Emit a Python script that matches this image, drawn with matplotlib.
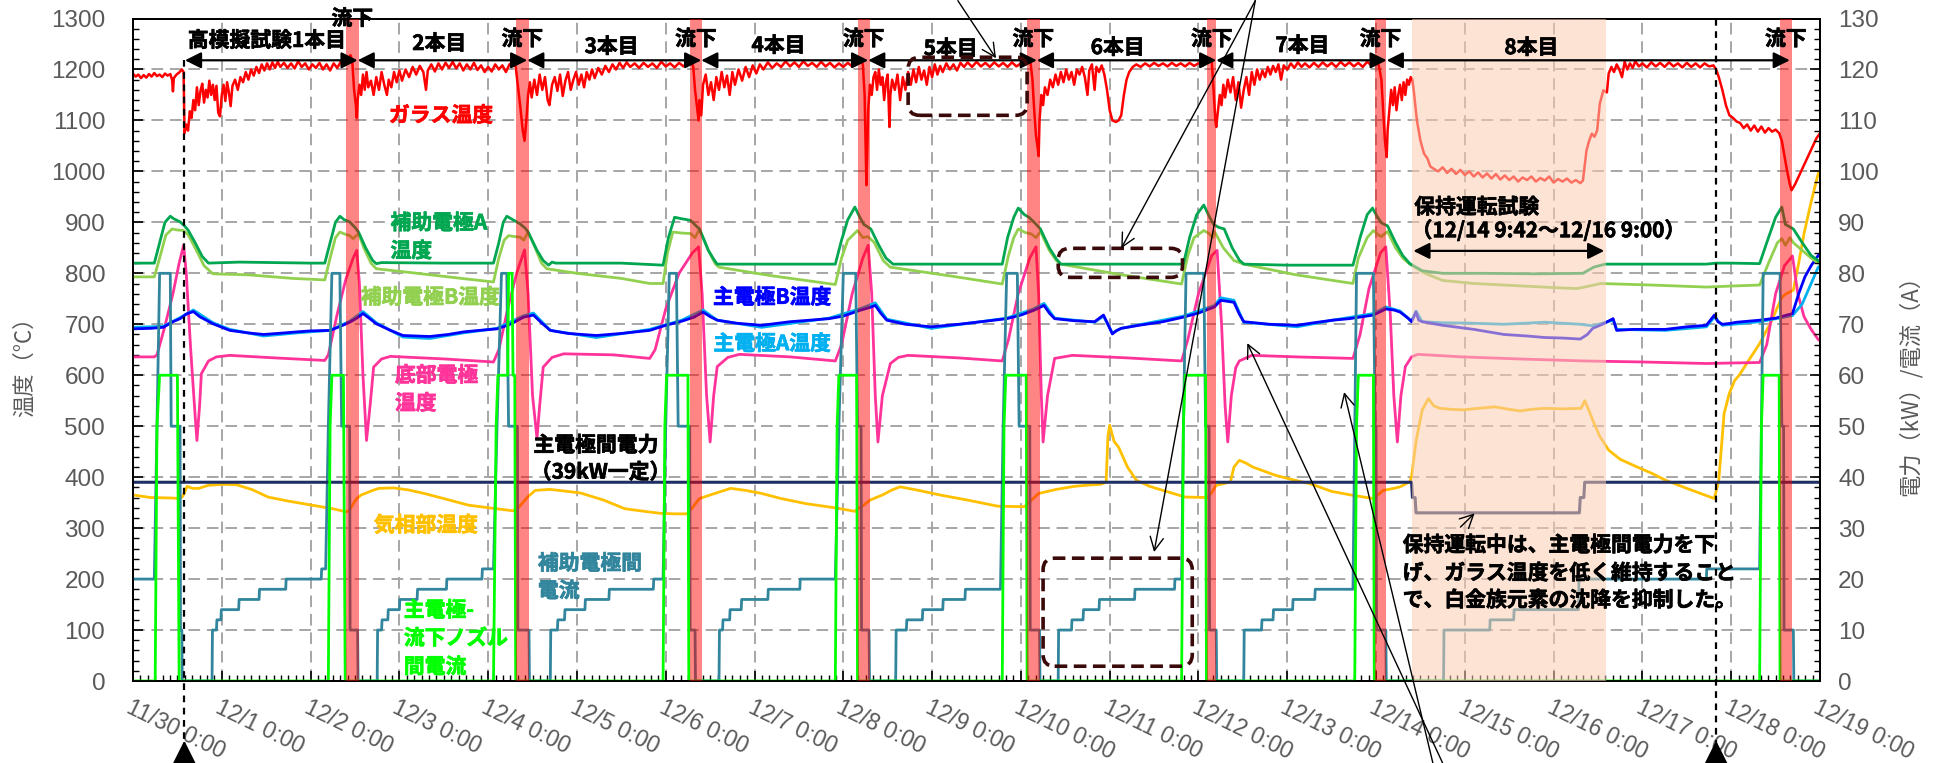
import matplotlib
matplotlib.use("Agg")
import matplotlib.pyplot as plt
import matplotlib.transforms as mtransforms
import matplotlib.patheffects as pe
from matplotlib.patches import FancyBboxPatch
from matplotlib.ticker import MultipleLocator, FixedLocator
from matplotlib.font_manager import FontProperties, findfont


def first_font(names):
    for name in names:
        try:
            findfont(FontProperties(family=name), fallback_to_default=False)
            return name
        except Exception:
            continue
    return "DejaVu Sans"


JP = ["Noto Sans CJK JP", "DejaVu Sans"]
NUM = first_font(["Liberation Sans Narrow", "Liberation Sans", "DejaVu Sans"])
plt.rcParams["font.family"] = JP

# ---------------------------------------------------------------- data
# time axis: days elapsed since 11/30 0:00
day_labels = ["11/30 0:00"] + [f"12/{d} 0:00" for d in range(1, 20)]

# pouring (流下) periods [start, end]
pour_start = [2.40, 4.31, 6.27, 8.16, 10.07, 12.10, 13.99, 18.55]
pour_end = [2.54, 4.46, 6.41, 8.30, 10.21, 12.20, 14.11, 18.68]
# holding operation test period
hold_span = [14.40, 16.59]
# run boundaries for the double arrows
run_edges = [0.585, 2.53, 4.44, 6.40, 8.28, 10.18, 12.20, 14.12, 18.66]
run_labels = ["高模擬試験1本目", "2本目", "3本目", "4本目", "5本目", "6本目", "7本目", "8本目"]
run_label_t = [1.51, 3.45, 5.39, 7.27, 9.21, 11.09, 13.17, 15.75]
run_label_v = [1257, 1251, 1245, 1247, 1241, 1243, 1247, 1243]
marker_days = [0.578, 17.83]

# glass temperature (°C)
glass = [
    (0.00, 1192), (0.03, 1186), (0.06, 1190), (0.09, 1183), (0.12, 1189), (0.15, 1184), (0.18, 1191),
    (0.21, 1186), (0.24, 1193), (0.27, 1187), (0.30, 1190), (0.33, 1185), (0.36, 1192), (0.39, 1188),
    (0.42, 1191), (0.44, 1180), (0.45, 1157), (0.46, 1183), (0.49, 1190), (0.52, 1194), (0.55, 1200),
    (0.57, 1195), (0.58, 1075), (0.60, 1092), (0.62, 1080), (0.64, 1118), (0.66, 1105), (0.68, 1140),
    (0.70, 1120), (0.72, 1165), (0.74, 1130), (0.76, 1158), (0.78, 1172), (0.80, 1135), (0.82, 1160),
    (0.84, 1145), (0.86, 1178), (0.88, 1150), (0.90, 1170), (0.92, 1140), (0.94, 1168), (0.96, 1115),
    (0.98, 1108), (1.00, 1150), (1.02, 1170), (1.04, 1138), (1.06, 1175), (1.08, 1155), (1.10, 1128),
    (1.12, 1168), (1.15, 1180), (1.18, 1160), (1.21, 1185), (1.24, 1175), (1.27, 1195), (1.30, 1180),
    (1.33, 1200), (1.36, 1188), (1.39, 1205), (1.42, 1193), (1.45, 1210), (1.48, 1198), (1.51, 1212),
    (1.54, 1200), (1.57, 1214), (1.60, 1203), (1.63, 1215), (1.66, 1205), (1.70, 1213), (1.74, 1203),
    (1.78, 1212), (1.82, 1202), (1.86, 1216), (1.90, 1205), (1.94, 1212), (1.98, 1200), (2.02, 1210),
    (2.06, 1203), (2.10, 1213), (2.14, 1200), (2.18, 1210), (2.22, 1198), (2.26, 1212), (2.30, 1203),
    (2.34, 1215), (2.38, 1208), (2.42, 1220), (2.45, 1228), (2.47, 1215), (2.49, 1160), (2.51, 1130),
    (2.52, 1105), (2.53, 1140), (2.55, 1170), (2.57, 1150), (2.59, 1190), (2.61, 1160), (2.63, 1195),
    (2.65, 1165), (2.68, 1178), (2.71, 1150), (2.74, 1185), (2.77, 1160), (2.80, 1195), (2.83, 1170),
    (2.86, 1150), (2.88, 1180), (2.91, 1165), (2.94, 1195), (2.97, 1175), (3.00, 1198), (3.03, 1178),
    (3.07, 1200), (3.11, 1185), (3.15, 1205), (3.19, 1190), (3.23, 1207), (3.27, 1195), (3.30, 1160),
    (3.32, 1198), (3.36, 1210), (3.40, 1196), (3.44, 1212), (3.48, 1200), (3.52, 1213), (3.56, 1203),
    (3.60, 1215), (3.64, 1202), (3.68, 1212), (3.72, 1198), (3.76, 1210), (3.80, 1200), (3.84, 1213),
    (3.88, 1199), (3.92, 1208), (3.96, 1195), (4.00, 1205), (4.04, 1196), (4.08, 1210), (4.12, 1200),
    (4.16, 1208), (4.20, 1195), (4.24, 1210), (4.28, 1215), (4.31, 1205), (4.33, 1175), (4.36, 1130),
    (4.39, 1080), (4.41, 1060), (4.43, 1100), (4.45, 1150), (4.47, 1175), (4.49, 1145), (4.52, 1180),
    (4.55, 1150), (4.58, 1190), (4.61, 1160), (4.64, 1185), (4.67, 1140), (4.69, 1130), (4.72, 1170),
    (4.75, 1185), (4.78, 1158), (4.81, 1190), (4.84, 1148), (4.87, 1178), (4.90, 1195), (4.93, 1160),
    (4.96, 1180), (4.99, 1195), (5.02, 1170), (5.05, 1190), (5.08, 1165), (5.11, 1195), (5.14, 1180),
    (5.17, 1200), (5.20, 1183), (5.24, 1203), (5.28, 1190), (5.32, 1207), (5.36, 1195), (5.40, 1210),
    (5.44, 1200), (5.48, 1213), (5.52, 1203), (5.56, 1214), (5.60, 1205), (5.65, 1212), (5.70, 1203),
    (5.75, 1213), (5.80, 1205), (5.85, 1212), (5.90, 1203), (5.95, 1215), (6.00, 1206), (6.05, 1212),
    (6.10, 1204), (6.15, 1213), (6.20, 1206), (6.25, 1215), (6.28, 1220), (6.31, 1205), (6.33, 1160),
    (6.35, 1130), (6.37, 1100), (6.38, 1140), (6.40, 1110), (6.42, 1170), (6.45, 1190), (6.48, 1150),
    (6.51, 1175), (6.54, 1140), (6.57, 1185), (6.60, 1160), (6.63, 1195), (6.66, 1165), (6.69, 1188),
    (6.72, 1150), (6.75, 1195), (6.78, 1170), (6.82, 1200), (6.86, 1178), (6.90, 1205), (6.94, 1185),
    (6.98, 1208), (7.02, 1192), (7.06, 1210), (7.10, 1200), (7.15, 1214), (7.20, 1203), (7.25, 1212),
    (7.30, 1205), (7.35, 1216), (7.40, 1206), (7.45, 1214), (7.50, 1205), (7.55, 1216), (7.60, 1207),
    (7.65, 1213), (7.70, 1205), (7.75, 1215), (7.80, 1206), (7.85, 1213), (7.90, 1204), (7.95, 1212),
    (8.00, 1205), (8.05, 1213), (8.10, 1206), (8.15, 1215), (8.19, 1222), (8.22, 1210), (8.24, 1150),
    (8.25, 1060), (8.26, 973), (8.27, 1040), (8.28, 1120), (8.30, 1170), (8.32, 1150), (8.34, 1185),
    (8.36, 1195), (8.38, 1160), (8.40, 1200), (8.42, 1170), (8.44, 1185), (8.46, 1140), (8.48, 1175),
    (8.50, 1190), (8.52, 1087), (8.53, 1150), (8.55, 1180), (8.58, 1160), (8.61, 1190), (8.64, 1140),
    (8.67, 1185), (8.70, 1160), (8.73, 1195), (8.76, 1170), (8.79, 1200), (8.82, 1175), (8.85, 1205),
    (8.88, 1180), (8.91, 1198), (8.94, 1170), (8.97, 1205), (9.00, 1185), (9.03, 1210), (9.06, 1190),
    (9.09, 1207), (9.12, 1195), (9.16, 1212), (9.20, 1200), (9.24, 1210), (9.28, 1198), (9.32, 1213),
    (9.36, 1205), (9.40, 1214), (9.45, 1205), (9.50, 1215), (9.55, 1206), (9.60, 1213), (9.65, 1205),
    (9.70, 1214), (9.75, 1206), (9.80, 1213), (9.85, 1205), (9.90, 1214), (9.95, 1206), (10.00, 1212),
    (10.04, 1210), (10.08, 1218), (10.11, 1212), (10.13, 1180), (10.15, 1120), (10.17, 1070),
    (10.19, 1045), (10.20, 1030), (10.21, 1100), (10.23, 1150), (10.25, 1130), (10.27, 1165),
    (10.30, 1150), (10.33, 1180), (10.36, 1165), (10.39, 1190), (10.42, 1170), (10.45, 1195),
    (10.48, 1175), (10.51, 1200), (10.54, 1180), (10.57, 1195), (10.60, 1170), (10.63, 1200),
    (10.66, 1190), (10.69, 1205), (10.72, 1185), (10.75, 1150), (10.77, 1198), (10.80, 1210),
    (10.83, 1160), (10.85, 1205), (10.88, 1195), (10.91, 1208), (10.94, 1190), (10.97, 1160),
    (11.00, 1120), (11.03, 1100), (11.07, 1097), (11.10, 1100), (11.13, 1110), (11.16, 1150),
    (11.19, 1180), (11.22, 1195), (11.26, 1205), (11.30, 1210), (11.35, 1205), (11.40, 1212),
    (11.45, 1206), (11.50, 1213), (11.55, 1207), (11.60, 1212), (11.65, 1206), (11.70, 1213),
    (11.75, 1207), (11.80, 1212), (11.85, 1206), (11.90, 1213), (11.95, 1207), (12.00, 1212),
    (12.05, 1208), (12.10, 1215), (12.13, 1222), (12.15, 1215), (12.17, 1160), (12.19, 1100),
    (12.20, 1087), (12.22, 1120), (12.24, 1150), (12.26, 1130), (12.28, 1170), (12.30, 1145),
    (12.33, 1180), (12.36, 1155), (12.39, 1185), (12.42, 1140), (12.45, 1175), (12.48, 1125),
    (12.51, 1160), (12.54, 1185), (12.57, 1150), (12.60, 1195), (12.63, 1170), (12.66, 1200),
    (12.69, 1180), (12.72, 1198), (12.75, 1185), (12.78, 1205), (12.81, 1190), (12.84, 1207),
    (12.87, 1195), (12.90, 1210), (12.93, 1180), (12.96, 1208), (13.00, 1200), (13.04, 1212),
    (13.08, 1203), (13.12, 1214), (13.16, 1205), (13.20, 1212), (13.25, 1204), (13.30, 1213),
    (13.35, 1205), (13.40, 1214), (13.45, 1206), (13.50, 1213), (13.55, 1205), (13.60, 1215),
    (13.65, 1207), (13.70, 1214), (13.75, 1206), (13.80, 1213), (13.85, 1205), (13.90, 1215),
    (13.95, 1208), (13.99, 1218), (14.02, 1215), (14.04, 1200), (14.06, 1180), (14.08, 1120),
    (14.10, 1060), (14.12, 1028), (14.13, 1080), (14.15, 1120), (14.17, 1160), (14.19, 1130),
    (14.21, 1165), (14.23, 1120), (14.25, 1150), (14.27, 1170), (14.29, 1140), (14.31, 1175),
    (14.33, 1150), (14.35, 1180), (14.37, 1170), (14.39, 1185), (14.41, 1180), (14.43, 1150),
    (14.46, 1100), (14.50, 1060), (14.54, 1035), (14.58, 1025), (14.61, 1010), (14.65, 1005),
    (14.70, 1000), (14.75, 1008), (14.80, 997), (14.85, 1005), (14.90, 995), (14.95, 1003),
    (15.00, 993), (15.05, 1000), (15.10, 990), (15.15, 998), (15.20, 988), (15.25, 996), (15.30, 986),
    (15.35, 995), (15.40, 984), (15.45, 992), (15.50, 983), (15.55, 990), (15.60, 980), (15.65, 988),
    (15.70, 983), (15.75, 990), (15.80, 980), (15.85, 987), (15.90, 982), (15.95, 990), (16.00, 978),
    (16.05, 985), (16.10, 980), (16.15, 986), (16.20, 978), (16.25, 983), (16.30, 977), (16.33, 982),
    (16.37, 1041), (16.40, 1060), (16.43, 1074), (16.46, 1068), (16.49, 1080), (16.52, 1133),
    (16.56, 1159), (16.60, 1155), (16.62, 1192), (16.65, 1205), (16.68, 1195), (16.71, 1210),
    (16.74, 1200), (16.77, 1185), (16.80, 1215), (16.83, 1200), (16.86, 1212), (16.89, 1203),
    (16.92, 1216), (16.96, 1206), (17.00, 1212), (17.05, 1204), (17.10, 1214), (17.15, 1206),
    (17.20, 1213), (17.25, 1205), (17.30, 1214), (17.35, 1206), (17.40, 1212), (17.45, 1204),
    (17.50, 1213), (17.55, 1205), (17.60, 1212), (17.65, 1204), (17.70, 1212), (17.75, 1206),
    (17.80, 1208), (17.83, 1200), (17.86, 1185), (17.90, 1160), (17.94, 1130), (17.98, 1110),
    (18.02, 1105), (18.06, 1098), (18.10, 1095), (18.14, 1085), (18.18, 1092), (18.22, 1080),
    (18.26, 1090), (18.30, 1078), (18.34, 1088), (18.38, 1076), (18.42, 1085), (18.46, 1078),
    (18.50, 1082), (18.54, 1075), (18.57, 1060), (18.60, 1030), (18.63, 1000), (18.66, 975),
    (18.68, 963), (18.72, 975), (18.76, 990), (18.80, 1005), (18.84, 1020), (18.88, 1035),
    (18.92, 1050), (18.96, 1065), (19.00, 1075),
]

# auxiliary electrode A temperature (°C)
aux_a = [
    (0, 820), (0.24, 820), (0.30, 860), (0.36, 900), (0.42, 912), (0.46, 907), (0.53, 901), (0.58, 893),
    (0.62, 885), (0.70, 860), (0.78, 833), (0.85, 820), (1.2, 822), (1.6, 821), (2.0, 820), (2.16, 820),
    (2.22, 860), (2.28, 900), (2.33, 912), (2.38, 905), (2.44, 901), (2.50, 890), (2.54, 881),
    (2.62, 850), (2.70, 825), (2.74, 819), (2.80, 821), (3.5, 820), (4.06, 820), (4.12, 860),
    (4.17, 900), (4.21, 912), (4.28, 905), (4.36, 897), (4.42, 888), (4.45, 881), (4.55, 845),
    (4.62, 825), (4.68, 816), (4.72, 822), (4.76, 820), (5.5, 820), (5.97, 816), (6.03, 870),
    (6.10, 910), (6.18, 907), (6.28, 904), (6.33, 895), (6.38, 887), (6.48, 845), (6.55, 825),
    (6.58, 818), (7.3, 818), (7.91, 818), (7.98, 865), (8.05, 905), (8.13, 930), (8.18, 912),
    (8.23, 896), (8.31, 887), (8.40, 855), (8.48, 830), (8.56, 818), (9.2, 818), (9.79, 818),
    (9.85, 870), (9.92, 910), (9.97, 928), (10.04, 915), (10.09, 910), (10.15, 900), (10.22, 887),
    (10.32, 850), (10.40, 828), (10.45, 818), (11.0, 818), (11.83, 818), (11.90, 870), (11.98, 915),
    (12.06, 934), (12.12, 912), (12.17, 896), (12.23, 890), (12.29, 887), (12.38, 850), (12.46, 826),
    (12.51, 818), (13.0, 816), (13.74, 816), (13.82, 870), (13.90, 915), (13.96, 928), (14.01, 912),
    (14.06, 899), (14.13, 893), (14.22, 860), (14.30, 835), (14.38, 819), (14.52, 805), (14.75, 800),
    (15.2, 800), (15.8, 799), (16.33, 800), (16.45, 812), (16.58, 818), (17.2, 818), (17.72, 818),
    (17.83, 820), (18.0, 820), (18.32, 819), (18.40, 860), (18.50, 910), (18.57, 930), (18.61, 896),
    (18.70, 887), (18.80, 860), (18.90, 835), (18.98, 825), (19.0, 823),
]

# auxiliary electrode B temperature (°C)
aux_b = [
    (0, 793), (0.24, 793), (0.30, 830), (0.37, 875), (0.44, 887), (0.50, 885), (0.57, 884), (0.62, 876),
    (0.70, 850), (0.80, 815), (0.90, 799), (1.3, 797), (1.8, 790), (2.16, 787), (2.22, 830),
    (2.28, 870), (2.33, 881), (2.40, 876), (2.44, 874), (2.48, 868), (2.54, 878), (2.60, 850),
    (2.68, 820), (2.74, 809), (3.2, 800), (3.7, 790), (4.06, 783), (4.12, 830), (4.18, 865),
    (4.23, 874), (4.30, 872), (4.36, 871), (4.40, 865), (4.45, 881), (4.53, 850), (4.60, 820),
    (4.66, 809), (5.0, 800), (5.5, 790), (5.82, 780), (5.97, 780), (6.02, 840), (6.08, 881),
    (6.18, 879), (6.28, 878), (6.33, 870), (6.38, 887), (6.48, 845), (6.56, 818), (6.60, 812),
    (7.2, 795), (7.91, 778), (7.98, 830), (8.05, 865), (8.16, 884), (8.22, 870), (8.28, 872),
    (8.35, 860), (8.45, 825), (8.53, 812), (9.2, 795), (9.79, 779), (9.86, 835), (9.92, 870),
    (9.97, 887), (10.05, 880), (10.12, 877), (10.17, 870), (10.22, 882), (10.32, 845), (10.40, 825),
    (10.45, 818), (11.1, 798), (11.81, 779), (11.88, 835), (11.95, 870), (12.06, 884), (12.12, 878),
    (12.16, 870), (12.18, 882), (12.28, 850), (12.40, 825), (12.51, 818), (13.1, 797), (13.74, 780),
    (13.80, 830), (13.90, 870), (13.97, 884), (14.03, 875), (14.06, 872), (14.10, 878), (14.13, 882),
    (14.22, 850), (14.30, 830), (14.38, 818), (14.55, 800), (14.75, 786), (15.1, 780), (15.44, 777),
    (16.0, 772), (16.26, 770), (16.40, 775), (16.53, 780), (17.1, 777), (17.72, 773), (18.0, 775),
    (18.32, 777), (18.42, 820), (18.52, 860), (18.57, 868), (18.61, 855), (18.66, 870), (18.70, 860),
    (18.80, 845), (18.90, 830), (18.98, 820), (19.0, 819),
]

# main electrode B temperature (°C)
main_b = [
    (0, 691), (0.2, 692), (0.34, 694), (0.45, 705), (0.53, 711), (0.60, 720), (0.68, 725), (0.75, 715),
    (0.90, 701), (1.09, 688), (1.3, 683), (1.47, 680), (1.7, 683), (1.84, 685), (2.0, 687), (2.22, 688),
    (2.35, 697), (2.44, 704), (2.52, 712), (2.59, 721), (2.66, 712), (2.74, 701), (2.90, 688),
    (3.04, 678), (3.34, 676), (3.55, 680), (3.72, 685), (3.9, 688), (4.10, 691), (4.25, 700),
    (4.40, 714), (4.51, 718), (4.60, 703), (4.70, 688), (4.9, 682), (5.22, 678), (5.5, 682),
    (5.82, 688), (6.0, 698), (6.18, 706), (6.32, 714), (6.42, 724), (6.50, 715), (6.58, 708),
    (6.8, 702), (7.08, 698), (7.4, 705), (7.84, 711), (8.0, 716), (8.18, 727), (8.30, 733), (8.36, 737),
    (8.42, 722), (8.49, 708), (8.7, 700), (8.99, 695), (9.3, 700), (9.6, 706), (9.84, 711), (10.0, 718),
    (10.14, 727), (10.26, 737), (10.32, 722), (10.38, 711), (10.6, 707), (10.83, 705), (10.93, 718),
    (10.98, 700), (11.03, 681), (11.08, 688), (11.13, 692), (11.33, 698), (11.6, 705), (11.83, 714),
    (12.0, 722), (12.18, 734), (12.25, 747), (12.33, 745), (12.40, 743), (12.46, 720), (12.51, 705),
    (12.8, 700), (13.11, 698), (13.3, 703), (13.51, 708), (13.7, 711), (13.97, 718), (14.11, 730),
    (14.2, 728), (14.27, 724), (14.36, 712), (14.40, 705), (14.45, 724), (14.48, 708), (14.52, 705),
    (14.75, 698), (15.1, 690), (15.44, 680), (15.7, 677), (15.9, 674), (16.1, 673), (16.30, 671),
    (16.38, 680), (16.44, 692), (16.55, 700), (16.67, 711), (16.71, 688), (16.9, 690), (17.26, 690),
    (17.5, 695), (17.72, 698), (17.81, 718), (17.85, 705), (17.90, 700), (18.0, 702), (18.06, 704),
    (18.32, 708), (18.5, 712), (18.69, 721), (18.76, 760), (18.83, 793), (18.90, 815), (18.98, 835),
    (19.0, 838),
]

# main electrode A temperature (°C)
main_a = [
    (0, 694), (0.34, 696), (0.53, 713), (0.68, 728), (0.90, 703), (1.09, 690), (1.47, 677), (1.84, 683),
    (2.22, 688), (2.44, 706), (2.59, 725), (2.74, 703), (3.04, 675), (3.34, 672), (3.72, 683),
    (4.10, 692), (4.40, 717), (4.51, 722), (4.70, 688), (5.22, 674), (5.82, 690), (6.18, 708),
    (6.42, 728), (6.58, 708), (7.08, 694), (7.84, 712), (8.18, 730), (8.36, 742), (8.49, 710),
    (8.99, 692), (9.84, 712), (10.14, 730), (10.26, 741), (10.38, 712), (10.83, 704), (10.93, 716),
    (11.03, 683), (11.13, 692), (11.83, 716), (12.18, 737), (12.25, 752), (12.40, 747), (12.51, 704),
    (13.11, 695), (13.51, 708), (13.97, 721), (14.11, 734), (14.27, 726), (14.40, 706), (14.45, 726),
    (14.52, 705), (14.75, 703), (15.1, 702), (15.44, 700), (15.9, 704), (16.30, 700), (16.44, 697),
    (16.67, 708), (16.71, 690), (17.26, 688), (17.72, 695), (17.81, 714), (17.90, 698), (18.32, 705),
    (18.69, 717), (18.80, 740), (18.90, 780), (18.98, 812), (19.0, 814),
]

# bottom electrode temperature (°C)
bottom = [
    (0, 636), (0.24, 636), (0.27, 640), (0.35, 690), (0.45, 760), (0.52, 820), (0.57, 855), (0.60, 800),
    (0.65, 650), (0.70, 520), (0.72, 472), (0.75, 540), (0.77, 603), (0.85, 628), (0.94, 636),
    (1.09, 639), (1.6, 634), (2.16, 629), (2.20, 640), (2.30, 720), (2.40, 790), (2.48, 830),
    (2.52, 845), (2.55, 780), (2.59, 600), (2.63, 472), (2.67, 540), (2.71, 616), (2.80, 632),
    (2.90, 637), (3.5, 632), (4.06, 626), (4.12, 650), (4.22, 730), (4.32, 800), (4.41, 846),
    (4.45, 760), (4.50, 560), (4.55, 476), (4.58, 540), (4.62, 616), (4.72, 635), (4.85, 642),
    (5.41, 640), (5.82, 633), (5.88, 650), (6.00, 730), (6.15, 800), (6.30, 840), (6.37, 852),
    (6.41, 760), (6.46, 560), (6.50, 469), (6.54, 560), (6.58, 617), (6.70, 635), (6.83, 641),
    (7.4, 636), (7.91, 628), (7.98, 660), (8.10, 760), (8.22, 830), (8.28, 855), (8.32, 760),
    (8.36, 560), (8.39, 469), (8.44, 560), (8.53, 623), (8.62, 635), (8.73, 639), (9.3, 634),
    (9.79, 628), (9.86, 670), (9.97, 760), (10.10, 830), (10.17, 852), (10.20, 760), (10.23, 560),
    (10.25, 469), (10.30, 560), (10.38, 633), (10.58, 639), (11.2, 634), (11.81, 628), (11.88, 670),
    (12.00, 760), (12.15, 835), (12.21, 845), (12.26, 700), (12.30, 540), (12.33, 469), (12.37, 560),
    (12.42, 615), (12.46, 628), (12.6, 639), (13.1, 636), (13.74, 633), (13.82, 680), (13.92, 770),
    (14.05, 840), (14.11, 852), (14.16, 720), (14.20, 560), (14.24, 469), (14.28, 560), (14.33, 617),
    (14.40, 636), (14.47, 641), (14.97, 636), (15.6, 632), (16.35, 628), (17.0, 626), (17.72, 623),
    (18.0, 624), (18.32, 625), (18.40, 660), (18.50, 760), (18.60, 815), (18.69, 834), (18.75, 760),
    (18.82, 715), (18.90, 690), (18.98, 670), (19.0, 668),
]

# gas phase temperature (°C)
gas = [
    (0, 365), (0.2, 360), (0.45, 359), (0.51, 358), (0.56, 362), (0.61, 382), (0.67, 378), (0.74, 378),
    (0.85, 384), (1.02, 386), (1.17, 385), (1.35, 375), (1.52, 361), (1.75, 353), (2.02, 345),
    (2.25, 338), (2.40, 332), (2.44, 335), (2.47, 345), (2.52, 358), (2.57, 365), (2.70, 374),
    (2.77, 378), (2.93, 379), (3.10, 375), (3.28, 368), (3.5, 358), (3.78, 345), (4.0, 340),
    (4.28, 334), (4.33, 338), (4.38, 348), (4.45, 362), (4.53, 374), (4.69, 376), (4.85, 373),
    (5.04, 369), (5.3, 355), (5.54, 338), (5.8, 332), (5.94, 329), (6.10, 328), (6.24, 328),
    (6.30, 340), (6.38, 358), (6.50, 365), (6.73, 378), (6.9, 374), (7.08, 368), (7.3, 358),
    (7.58, 348), (7.9, 340), (8.13, 333), (8.18, 340), (8.23, 345), (8.30, 355), (8.44, 365),
    (8.55, 375), (8.64, 381), (8.85, 374), (9.09, 365), (9.4, 355), (9.74, 343), (10.04, 342),
    (10.12, 355), (10.20, 368), (10.40, 376), (10.60, 382), (10.80, 385), (10.90, 386), (10.96, 390),
    (10.98, 480), (11.00, 502), (11.05, 470), (11.10, 459), (11.2, 420), (11.3, 394), (11.45, 382),
    (11.6, 374), (11.85, 361), (12.1, 360), (12.15, 370), (12.2, 384), (12.30, 388), (12.36, 391),
    (12.40, 420), (12.46, 433), (12.53, 428), (12.61, 420), (12.86, 404), (13.06, 395), (13.26, 387),
    (13.5, 372), (13.75, 364), (13.97, 358), (14.08, 374), (14.20, 378), (14.27, 381), (14.38, 391),
    (14.40, 401), (14.45, 470), (14.52, 532), (14.59, 554), (14.65, 540), (14.72, 535), (14.85, 533),
    (14.98, 532), (15.15, 535), (15.34, 538), (15.50, 533), (15.62, 530), (15.75, 533), (15.89, 535),
    (16.1, 534), (16.31, 535), (16.35, 550), (16.40, 530), (16.44, 512), (16.52, 480), (16.62, 453),
    (16.75, 435), (16.94, 420), (17.1, 408), (17.26, 394), (17.5, 378), (17.70, 365), (17.81, 358),
    (17.86, 394), (17.92, 525), (17.98, 565), (18.04, 590), (18.09, 600), (18.2, 630), (18.32, 662),
    (18.45, 705), (18.57, 753), (18.62, 760), (18.70, 767), (18.76, 820), (18.82, 878), (18.90, 940),
    (18.98, 996), (19.0, 1000),
]

# main electrode power (kW)
power = [(0, 39), (14.40, 39), (14.41, 36), (14.44, 36), (14.45, 33), (16.29, 33), (16.30, 36),
         (16.34, 36), (16.35, 39), (19.0, 39)]

# auxiliary electrode current (A)
aux_current = [
    (0, 20), (0.24, 20), (0.27, 50), (0.30, 80), (0.42, 80), (0.43, 50), (0.53, 50), (0.535, 10),
    (0.55, 10), (0.555, 0), (0.89, 0), (0.895, 10), (0.94, 10), (0.945, 12), (0.99, 12), (0.995, 14),
    (1.19, 14), (1.195, 16), (1.42, 16), (1.425, 18), (1.72, 18), (1.725, 20), (2.12, 20), (2.125, 22),
    (2.17, 22), (2.20, 50), (2.24, 80), (2.33, 80), (2.35, 50), (2.44, 50), (2.445, 10), (2.53, 10),
    (2.535, 0), (2.75, 0), (2.755, 10), (2.80, 10), (2.805, 12), (2.87, 12), (2.875, 14), (3.00, 14),
    (3.005, 16), (3.20, 16), (3.205, 18), (3.53, 18), (3.535, 20), (3.93, 20), (3.935, 22), (4.06, 22),
    (4.10, 50), (4.15, 80), (4.21, 80), (4.23, 50), (4.33, 50), (4.335, 10), (4.46, 10), (4.465, 0),
    (4.70, 0), (4.705, 10), (4.78, 10), (4.785, 12), (4.86, 12), (4.865, 14), (5.09, 14), (5.095, 16),
    (5.36, 16), (5.365, 18), (5.86, 18), (5.865, 20), (5.97, 20), (6.00, 50), (6.04, 80), (6.12, 80),
    (6.14, 50), (6.27, 50), (6.275, 10), (6.33, 10), (6.335, 0), (6.60, 0), (6.605, 10), (6.64, 10),
    (6.645, 12), (6.72, 12), (6.725, 14), (6.85, 14), (6.855, 16), (7.15, 16), (7.155, 18), (7.51, 18),
    (7.515, 20), (7.91, 20), (7.95, 50), (8.00, 80), (8.14, 80), (8.16, 50), (8.20, 50), (8.205, 10),
    (8.29, 10), (8.295, 0), (8.59, 0), (8.595, 10), (8.71, 10), (8.715, 12), (8.89, 12), (8.895, 14),
    (9.12, 14), (9.125, 16), (9.37, 16), (9.375, 18), (9.77, 18), (9.80, 50), (9.84, 80), (9.96, 80),
    (9.98, 50), (10.10, 50), (10.105, 10), (10.21, 10), (10.215, 0), (10.42, 0), (10.425, 10),
    (10.57, 10), (10.575, 12), (10.70, 12), (10.705, 14), (10.88, 14), (10.885, 16), (11.28, 16),
    (11.285, 18), (11.73, 18), (11.735, 20), (11.81, 20), (11.83, 50), (11.86, 80), (12.06, 80),
    (12.08, 50), (12.12, 50), (12.125, 10), (12.20, 10), (12.205, 0), (12.51, 0), (12.515, 10),
    (12.71, 10), (12.715, 12), (12.84, 12), (12.845, 14), (13.06, 14), (13.065, 16), (13.31, 16),
    (13.315, 18), (13.74, 18), (13.76, 50), (13.78, 80), (13.97, 80), (13.99, 50), (14.00, 50),
    (14.005, 10), (14.11, 10), (14.115, 0), (14.76, 0), (14.765, 10), (15.28, 10), (15.285, 12),
    (15.55, 12), (15.555, 14), (16.28, 14), (16.285, 20), (17.72, 20), (17.725, 22), (18.32, 22),
    (18.34, 50), (18.36, 80), (18.55, 80), (18.57, 50), (18.59, 50), (18.595, 10), (18.70, 10),
    (18.705, 0), (19.0, 0),
]

# main electrode - pouring nozzle current (A)
nozzle_current = [
    (0, 0), (0.25, 0), (0.27, 50), (0.30, 60), (0.50, 60), (0.52, 0), (2.20, 0), (2.22, 50), (2.24, 60),
    (2.37, 60), (2.39, 0), (4.06, 0), (4.09, 50), (4.11, 60), (4.22, 60), (4.23, 80), (4.27, 80),
    (4.28, 60), (4.30, 60), (4.31, 0), (5.97, 0), (5.99, 50), (6.01, 60), (6.25, 60), (6.26, 0),
    (7.91, 0), (7.93, 50), (7.95, 60), (8.15, 60), (8.16, 0), (9.79, 0), (9.81, 50), (9.83, 60),
    (10.06, 60), (10.07, 0), (11.81, 0), (11.83, 50), (11.85, 60), (12.08, 60), (12.09, 0),
    (13.76, 0), (13.78, 50), (13.80, 60), (13.97, 60), (13.98, 0), (18.32, 0), (18.34, 50),
    (18.36, 60), (18.54, 60), (18.55, 0), (19.0, 0),
]


def split(pairs):
    return [p[0] for p in pairs], [p[1] for p in pairs]


# ---------------------------------------------------------------- figure
fig = plt.figure(figsize=(19.37, 7.63), dpi=100)
ax1 = fig.add_axes([0.06866, 0.10747, 0.87094, 0.86828])
ax2 = ax1.twinx()

LW = 2.0
ax1.plot(*split(gas), color="#FFC000", lw=LW, zorder=3)
ax1.plot(*split(bottom), color="#FF3399", lw=LW, zorder=3)
ax1.plot(*split(main_a), color="#00B0F0", lw=LW, zorder=3)
ax1.plot(*split(main_b), color="#0000FF", lw=LW, zorder=3)
ax1.plot(*split(aux_b), color="#92D050", lw=LW, zorder=3)
ax1.plot(*split(aux_a), color="#00A650", lw=LW, zorder=3)
ax1.plot(*split(glass), color="#FF0000", lw=1.8, zorder=3)

ax2.plot(*split(aux_current), color="#31859C", lw=LW, zorder=2)
ax2.plot(*split(power), color="#1F2F66", lw=2.2, zorder=2)
ax2.plot(*split(nozzle_current), color="#00FF00", lw=LW, zorder=2)

# pouring periods and the holding test period are laid over the curves
for a, b in zip(pour_start, pour_end):
    ax2.axvspan(a, b, color="#FF0000", alpha=0.48, lw=0, zorder=5)
ax2.axvspan(hold_span[0], hold_span[1], color="#FACCB2", alpha=0.55, lw=0, zorder=5)

dt = ax1.transData
blend = mtransforms.blended_transform_factory(ax1.transData, ax1.transAxes)


def heavy(color):
    return [pe.withStroke(linewidth=0.5, foreground=color)]


# run arrows and labels
dbl = dict(arrowstyle="<|-|>,head_length=0.7,head_width=0.35", mutation_scale=14, color="k",
           lw=1.6, shrinkA=0, shrinkB=0)
for a, b in zip(run_edges[:-1], run_edges[1:]):
    ax2.annotate("", xy=(b, 1218), xytext=(a, 1218), xycoords=dt, textcoords=dt,
                 arrowprops=dbl, zorder=9)
TXT = dict(fontsize=15, fontweight="bold", family=JP, zorder=9, transform=dt)
for lab, tx, vy in zip(run_labels, run_label_t, run_label_v):
    ax2.text(tx, vy, lab, ha="center", va="center", path_effects=heavy("k"), **TXT)
for i, (a, b) in enumerate(zip(pour_start, pour_end)):
    ax2.text((a + b) / 2, 1300 if i == 0 else 1260, "流下", ha="center", va="center",
             path_effects=heavy("k"), **TXT)

# start / end markers
for k, tm in enumerate(marker_days):
    top = 1218 / 1300 if k == 0 else 1.0
    ax2.plot([tm, tm], [top, -0.092], transform=blend, color="k", lw=1.6, ls=(0, (3, 2.5)),
             clip_on=False, zorder=9)
    ax2.annotate("", xy=(tm, -0.090), xytext=(tm, -0.13), xycoords=blend, textcoords=blend,
                 arrowprops=dict(arrowstyle="-|>,head_length=0.9,head_width=0.45", mutation_scale=16,
                                 color="k", lw=1.6, shrinkA=0, shrinkB=0),
                 annotation_clip=False, zorder=9)

# holding test arrow and note
ax2.annotate("", xy=(16.57, 844), xytext=(14.42, 844), xycoords=dt, textcoords=dt,
             arrowprops=dbl, zorder=9)
ax2.text(14.43, 930, "保持運転試験", ha="left", va="center", path_effects=heavy("k"), **TXT)
ax2.text(14.40, 884, "（12/14 9:42～12/16 9:00）", ha="left", va="center",
         path_effects=heavy("k"), **TXT)
for vy, line in zip([267, 212, 159], ["保持運転中は、主電極間電力を下",
                                      "げ、ガラス温度を低く維持すること",
                                      "で、白金族元素の沈降を抑制した。"]):
    ax2.text(14.30, vy, line, ha="left", va="center", path_effects=heavy("k"), **TXT)


# series labels
def label(t, v, s, color, ha="left"):
    ax2.text(t, v, s, ha=ha, va="center", color=color, path_effects=heavy(color), **TXT)


label(3.47, 1110, "ガラス温度", "#FF0000", "center")
label(2.90, 899, "補助電極A", "#00A650")
label(2.90, 844, "温度", "#00A650")
label(3.35, 753, "補助電極B温度", "#92D050", "center")
label(7.20, 753, "主電極B温度", "#0000FF", "center")
label(7.20, 662, "主電極A温度", "#00B0F0", "center")
label(2.95, 600, "底部電極", "#FF3399")
label(2.95, 545, "温度", "#FF3399")
label(4.51, 463, "主電極間電力", "#000000")
label(4.48, 410, "（39kW一定）", "#000000")
label(3.30, 306, "気相部温度", "#FFC000", "center")
label(4.56, 231, "補助電極間", "#31859C")
label(4.56, 177, "電流", "#31859C")
label(3.05, 139, "主電極-", "#00FF00")
label(3.05, 84, "流下ノズル", "#00FF00")
label(3.05, 28, "間電流", "#00FF00")

# dashed highlight boxes
for t0, t1, v0, v1 in [(8.73, 10.07, 1110, 1224), (10.42, 11.82, 792, 849), (10.25, 11.93, 29, 241)]:
    ax2.add_patch(FancyBboxPatch((t0, v0), t1 - t0, v1 - v0,
                                 boxstyle="round,pad=0,rounding_size=0.13", mutation_aspect=174,
                                 transform=dt, fill=False, ec="#3A0A0A", lw=2.6, ls=(0, (3.5, 1.8)),
                                 zorder=9))

# callout leader lines
thin = dict(arrowstyle="->,head_length=0.6,head_width=0.3", mutation_scale=16, color="k", lw=1.0,
            shrinkA=0, shrinkB=0)
for (t0, v0), (t1, v1) in [((9.29, 1335), (9.72, 1222)), ((12.64, 1335), (11.13, 849)),
                           ((12.64, 1335), (11.50, 253)), ((14.75, -161), (12.55, 663)),
                           ((14.64, -161), (13.64, 567)), ((14.95, 302), (15.11, 329))]:
    ax2.annotate("", xy=(t1, v1), xytext=(t0, v0), xycoords=dt, textcoords=dt, arrowprops=thin,
                 annotation_clip=False, zorder=9)

# ---------------------------------------------------------------- axes
ax1.set_xlim(0, 19)
ax1.set_ylim(0, 1300)
ax2.set_ylim(0, 130)

GRID = "#A6A6A6"
ax1.grid(True, which="major", color=GRID, ls=(0, (6, 3.5)), lw=1.4)
ax1.xaxis.set_major_locator(FixedLocator(list(range(20))))
ax1.xaxis.set_minor_locator(MultipleLocator(1 / 12))
ax1.yaxis.set_major_locator(MultipleLocator(100))
ax1.yaxis.set_minor_locator(MultipleLocator(20))
ax2.yaxis.set_major_locator(MultipleLocator(10))
ax2.yaxis.set_minor_locator(MultipleLocator(2))

ax1.set_xticklabels(day_labels, rotation=-26, ha="left", va="top", rotation_mode="anchor")
ax1.tick_params(axis="x", which="major", direction="in", length=7, width=1.2, pad=11,
                labelsize=16.5, labelcolor="#595959")
ax1.tick_params(axis="x", which="minor", direction="in", length=4, width=1)
ax1.tick_params(axis="y", which="major", direction="in", length=7, width=1.2, pad=20,
                labelsize=17.5, labelcolor="#595959")
ax1.tick_params(axis="y", which="minor", direction="in", length=4, width=1)
ax2.tick_params(axis="y", which="major", direction="in", length=7, width=1.2, pad=13,
                labelsize=17.5, labelcolor="#595959")
ax2.tick_params(axis="y", which="minor", direction="in", length=4, width=1)
for lbl in ax1.get_xticklabels() + ax1.get_yticklabels() + ax2.get_yticklabels():
    lbl.set_fontfamily(NUM)

for ax in (ax1, ax2):
    for sp in ax.spines.values():
        sp.set_linewidth(1.3)
        sp.set_color("k")

fig.text(24 / 1937, 1 - 361 / 763, "温度（°C）", rotation=90, ha="center", va="center",
         fontsize=16, color="#595959", family=JP)
fig.text(1910 / 1937, 1 - 380 / 763, "電力（kW）/電流（A）", rotation=90, ha="center", va="center",
         fontsize=16, color="#595959", family=JP)

fig.savefig("out.png", dpi=100)
